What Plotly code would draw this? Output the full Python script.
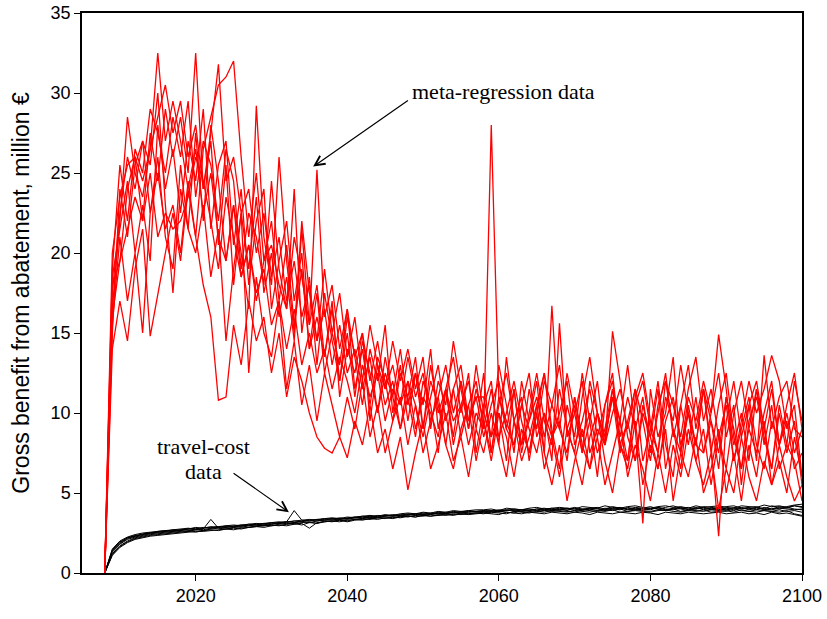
import plotly.graph_objects as go

years = list(range(2008, 2101))

# meta-regression data (red), million EUR
meta_1 = [0, 16.5, 22.0, 28.5, 25.0, 23.5, 26.5, 32.5, 27.0, 29.5,
          27.0, 24.0, 26.5, 22.5, 25.0, 21.0, 19.5, 23.0, 18.5, 20.5,
          17.5, 19.0, 15.5, 17.0, 14.0, 16.5, 13.0, 15.0, 12.5, 14.0,
          11.5, 13.5, 12.0, 10.0, 13.0, 11.0, 12.5, 9.5, 11.5, 10.5,
          12.0, 9.0, 11.0, 10.0, 8.5, 11.5, 9.5, 10.5, 8.0, 10.0,
          9.0, 28.0, 11.0, 9.5, 8.0, 10.5, 9.0, 7.5, 10.0, 8.5,
          9.5, 7.0, 11.0, 8.5, 10.0, 7.5, 9.0, 11.5, 8.0, 9.5,
          7.0, 10.5, 8.5, 6.5, 9.5, 11.0, 8.0, 10.0, 7.0, 9.0,
          5.5, 8.5, 10.5, 7.0, 9.0, 11.0, 8.0, 6.5, 9.5, 8.0,
          10.0, 7.5, 9.0]
meta_2 = [0, 18.0, 19.5, 24.0, 26.0, 22.0, 27.5, 24.5, 29.0, 26.0,
          28.5, 25.0, 32.5, 24.0, 27.0, 20.5, 25.5, 18.0, 22.5, 19.0,
          23.5, 17.5, 20.0, 16.0, 18.5, 14.5, 21.5, 15.5, 18.0, 13.5,
          16.5, 12.0, 15.0, 11.0, 14.5, 12.5, 10.0, 13.5, 11.0, 14.0,
          10.5, 12.5, 9.0, 13.0, 10.0, 11.5, 8.5, 12.0, 9.5, 11.0,
          11.0, 8.5, 10.0, 7.0, 11.5, 8.0, 9.5, 12.0, 7.5, 16.7,
          9.0, 7.5, 11.0, 8.0, 6.5, 10.0, 8.5, 11.0, 7.5, 9.5,
          11.5, 7.0, 9.0, 12.0, 8.0, 6.0, 10.5, 8.0, 11.0, 7.5,
          9.5, 6.5, 11.0, 8.0, 10.0, 7.0, 11.5, 9.0, 6.5, 10.0,
          7.5, 9.5, 5.5]
meta_3 = [0, 15.0, 24.0, 21.0, 25.5, 27.0, 22.5, 25.0, 21.5, 23.0,
          20.0, 24.5, 21.0, 26.5, 28.5, 30.5, 31.0, 32.0, 26.0, 21.0,
          25.0, 19.5, 22.0, 17.0, 20.5, 15.5, 19.0, 14.0, 17.5, 12.5,
          15.0, 13.0, 16.5, 11.5, 14.0, 10.5, 13.5, 12.0, 9.5, 12.5,
          11.0, 13.5, 9.0, 12.0, 10.5, 8.0, 11.5, 13.0, 9.5, 11.0,
          8.5, 10.5, 12.0, 9.0, 11.5, 7.5, 10.0, 12.5, 9.5, 8.0,
          11.5, 9.0, 10.5, 7.5, 12.0, 10.0, 8.5, 11.0, 9.5, 13.0,
          9.0, 11.0, 7.5, 10.0, 12.5, 8.5, 10.5, 13.0, 9.0, 11.5,
          8.0, 2.3, 9.5, 12.0, 8.5, 10.5, 7.0, 13.6, 9.0, 11.0,
          12.0, 9.0, 8.5]
meta_4 = [0, 20.0, 23.5, 25.5, 26.0, 24.5, 26.5, 28.5, 30.5, 27.5,
          29.5, 26.0, 28.0, 24.0, 27.5, 31.8, 24.5, 26.0, 22.5, 24.0,
          20.0, 22.5, 18.5, 21.0, 17.0, 19.5, 16.0, 18.0, 14.5, 16.5,
          13.0, 15.5, 12.5, 14.0, 11.5, 13.5, 10.0, 12.5, 11.0, 9.0,
          12.0, 10.5, 8.5, 11.0, 13.0, 9.5, 11.5, 8.5, 10.5, 12.0,
          9.0, 11.5, 8.5, 10.0, 12.0, 9.5, 7.5, 10.5, 12.5, 8.5,
          10.0, 12.0, 8.0, 9.5, 11.5, 8.5, 10.5, 12.5, 8.0, 7.0,
          10.5, 12.0, 9.0, 7.5, 11.0, 9.5, 13.0, 10.0, 8.0, 11.5,
          9.5, 7.5, 11.0, 9.0, 6.5, 10.5, 12.0, 9.0, 11.5, 8.0,
          9.5, 6.5, 7.5]
meta_5 = [0, 16.0, 19.5, 21.5, 23.5, 22.0, 25.0, 21.0, 22.5, 21.5,
          22.0, 23.5, 26.0, 24.5, 22.0, 19.0, 23.5, 21.0, 18.5, 20.5,
          17.0, 19.5, 20.5, 18.0, 16.5, 21.0, 18.5, 15.5, 25.2, 16.0,
          18.0, 14.0, 16.5, 13.5, 15.0, 12.0, 14.5, 11.5, 13.0, 10.5,
          13.5, 11.0, 12.5, 9.5, 11.0, 13.0, 10.0, 12.0, 9.0, 11.5,
          9.5, 7.5, 11.0, 9.0, 8.0, 10.5, 12.5, 8.5, 10.0, 7.0,
          15.6, 8.5, 10.0, 12.0, 7.5, 9.0, 8.0, 15.1, 12.0, 8.5,
          7.0, 10.0, 8.5, 11.5, 6.5, 9.0, 7.5, 11.0, 9.5, 12.0,
          10.0, 14.9, 11.5, 7.0, 9.5, 12.0, 10.0, 11.5, 13.6, 12.0,
          9.0, 10.5, 6.0]
meta_6 = [0, 14.0, 17.0, 14.5, 19.0, 21.5, 14.8, 17.5, 20.0, 22.5,
          19.5, 24.0, 21.0, 18.0, 16.0, 10.8, 11.0, 15.5, 13.0, 17.0,
          14.5, 16.0, 12.5, 15.0, 11.0, 13.5, 12.0, 10.0, 8.5, 7.8,
          7.5, 8.5, 7.2, 9.5, 8.0, 10.5, 7.5, 9.0, 6.5, 8.5,
          5.2, 7.5, 9.5, 6.5, 8.0, 10.0, 7.0, 8.5, 6.0, 9.0,
          7.5, 10.0, 8.0, 6.0, 9.5, 7.0, 8.5, 10.5, 7.5, 5.5,
          8.0, 4.5, 7.0, 9.0, 6.5, 8.5, 5.5, 7.5, 9.5, 6.0,
          8.0, 6.5, 4.5, 7.5, 5.0, 8.0, 6.0, 9.0, 7.0, 5.5,
          7.5, 4.0, 6.5, 5.0, 8.5, 6.0, 4.5, 7.0, 5.5, 8.0,
          6.0, 4.5, 5.5]
meta_7 = [0, 19.0, 25.5, 22.0, 26.5, 25.0, 29.0, 27.5, 25.0, 28.5,
          26.0, 29.5, 23.5, 27.0, 25.5, 22.0, 26.5, 24.5, 19.0, 22.5,
          21.0, 18.0, 24.5, 19.0, 16.5, 24.0, 15.0, 18.5, 13.0, 17.5,
          14.5, 12.0, 16.0, 13.5, 10.5, 14.0, 12.0, 15.5, 10.0, 13.0,
          9.5, 12.5, 10.5, 14.0, 9.0, 11.5, 13.5, 10.0, 12.5, 7.5,
          10.5, 12.0, 8.0, 13.5, 9.5, 11.0, 7.0, 10.0, 12.5, 9.0,
          6.5, 10.5, 8.5, 12.5, 9.5, 6.0, 10.5, 12.0, 8.5, 11.0,
          9.0, 3.1, 11.5, 8.5, 10.0, 13.5, 7.5, 10.0, 8.0, 11.5,
          7.5, 10.5, 12.5, 8.5, 6.5, 9.0, 7.5, 10.0, 12.0, 8.0,
          10.5, 12.5, 9.0]
meta_8 = [0, 17.5, 22.5, 26.0, 24.0, 27.0, 25.5, 30.0, 23.0, 17.5,
          24.0, 21.5, 27.5, 22.0, 28.0, 24.5, 19.5, 23.0, 20.0, 16.5,
          29.2, 21.0, 18.0, 26.0, 19.5, 15.0, 22.0, 17.5, 14.5, 19.0,
          15.0, 17.5, 13.5, 16.0, 12.0, 15.5, 13.0, 11.5, 14.5, 12.0,
          14.0, 11.5, 13.5, 9.0, 12.0, 10.5, 14.5, 11.5, 9.0, 13.0,
          10.0, 8.5, 13.0, 10.5, 7.5, 12.0, 9.5, 11.0, 8.5, 10.5,
          13.0, 9.0, 7.5, 11.0, 13.5, 10.0, 8.0, 11.5, 9.5, 7.0,
          11.0, 12.5, 9.5, 7.5, 12.0, 10.5, 8.5, 11.5, 13.5, 9.5,
          11.5, 8.5, 6.5, 10.0, 12.0, 9.0, 11.5, 8.0, 10.5, 6.5,
          8.0, 7.0, 4.5]
meta_9 = [0, 15.5, 21.0, 17.0, 20.0, 15.0, 22.5, 26.0, 21.0, 19.0,
          25.5, 21.5, 20.0, 23.0, 18.5, 21.5, 14.5, 19.0, 22.5, 12.5,
          18.5, 15.0, 13.5, 17.0, 11.5, 14.5, 10.5, 13.0, 9.5, 12.5,
          10.5, 8.5, 11.0, 9.0, 12.0, 8.5, 10.5, 7.5, 9.5, 11.0,
          8.0, 10.5, 7.5, 9.5, 11.0, 8.0, 6.5, 9.0, 10.5, 7.0,
          9.5, 7.0, 10.0, 8.5, 6.0, 9.0, 7.5, 10.0, 6.5, 8.5,
          6.0, 9.0, 7.5, 5.5, 8.5, 10.0, 7.0, 5.0, 8.0, 6.5,
          9.5, 5.5, 8.0, 6.5, 9.0, 4.5, 7.5, 6.0, 8.5, 5.0,
          6.5, 9.0, 5.0, 7.5, 4.5, 8.0, 6.0, 9.5, 5.5, 7.0,
          5.0, 8.5, 6.0]
meta_10 = [0, 18.5, 21.5, 24.5, 20.0, 23.0, 19.5, 28.0, 24.0, 26.5,
           22.5, 27.0, 24.5, 29.0, 21.5, 25.5, 27.0, 20.5, 24.0, 18.0,
           22.0, 24.0, 16.5, 19.5, 22.0, 17.0, 20.0, 14.0, 16.0, 13.5,
           17.0, 11.0, 14.0, 12.5, 15.0, 9.5, 13.0, 10.5, 12.0, 9.0,
           11.0, 8.5, 12.0, 10.5, 7.5, 11.5, 8.0, 10.5, 12.0, 9.0,
           12.5, 7.5, 10.5, 12.5, 9.5, 8.0, 11.5, 9.0, 12.0, 10.5,
           9.0, 12.5, 10.0, 7.5, 9.5, 12.0, 8.0, 10.0, 11.5, 9.0,
           11.5, 9.5, 7.0, 10.5, 12.0, 9.0, 6.5, 10.5, 8.0, 7.5,
           10.0, 12.5, 8.5, 10.5, 5.5, 9.5, 11.0, 8.5, 6.5, 10.5,
           8.0, 12.0, 9.5]

# travel-cost data (black), million EUR
travel_1 = [0, 1.4, 1.9, 2.2, 2.35, 2.4, 2.5, 2.55, 2.6, 2.65,
            2.7, 2.75, 2.7, 2.8, 2.85, 2.9, 2.85, 2.95, 3.0, 2.95,
            3.05, 3.1, 3.05, 3.15, 3.2, 3.9, 3.3, 3.25, 3.35, 3.3,
            3.4, 3.35, 3.45, 3.5, 3.45, 3.55, 3.5, 3.6, 3.55, 3.65,
            3.6, 3.7, 3.65, 3.7, 3.75, 3.7, 3.8, 3.75, 3.85, 3.8,
            3.85, 3.9, 3.8, 3.9, 3.95, 3.85, 3.9, 4.0, 3.9, 3.95,
            4.0, 3.9, 4.05, 3.95, 4.0, 3.9, 4.05, 4.0, 3.95, 4.1,
            4.0, 3.95, 4.05, 4.0, 3.9, 4.05, 4.1, 3.95, 4.0, 4.05,
            3.95, 4.1, 4.0, 3.9, 4.05, 4.0, 4.1, 3.95, 4.05, 4.0,
            4.1, 4.0, 3.95]
travel_2 = [0, 1.1, 1.6, 1.9, 2.1, 2.2, 2.3, 2.35, 2.4, 2.45,
            2.5, 2.55, 2.6, 2.6, 2.65, 2.7, 2.75, 2.7, 2.8, 2.85,
            2.9, 2.85, 2.95, 3.0, 2.95, 3.05, 3.1, 2.8, 3.15, 3.2,
            3.25, 3.2, 3.3, 3.35, 3.3, 3.4, 3.45, 3.4, 3.5, 3.45,
            3.55, 3.5, 3.6, 3.55, 3.65, 3.6, 3.7, 3.65, 3.7, 3.75,
            3.7, 3.8, 3.75, 3.7, 3.85, 3.8, 3.75, 3.85, 3.8, 3.9,
            3.85, 3.8, 3.9, 3.85, 3.8, 3.9, 3.85, 3.95, 3.8, 3.85,
            3.9, 3.85, 3.8, 3.9, 3.95, 3.85, 3.8, 3.9, 3.85, 3.95,
            3.8, 3.85, 3.9, 3.8, 3.95, 3.85, 3.8, 3.9, 3.85, 3.8,
            3.9, 3.7, 3.6]
travel_3 = [0, 1.3, 1.8, 2.1, 2.25, 2.35, 2.45, 2.5, 2.55, 2.6,
            2.65, 2.6, 2.7, 2.75, 3.35, 2.8, 2.85, 2.9, 2.85, 2.95,
            3.0, 2.95, 3.05, 3.1, 3.05, 3.15, 3.2, 3.15, 3.25, 3.3,
            3.3, 3.4, 3.35, 3.45, 3.4, 3.5, 3.45, 3.55, 3.6, 3.55,
            3.65, 3.6, 3.7, 3.65, 3.75, 3.7, 3.8, 3.75, 3.8, 3.85,
            3.8, 3.9, 3.85, 3.95, 3.9, 3.85, 3.95, 3.9, 4.0, 3.9,
            3.95, 4.0, 3.9, 4.0, 3.95, 4.05, 3.9, 4.0, 4.05, 3.95,
            4.05, 4.0, 3.95, 4.1, 4.0, 3.95, 4.05, 4.0, 4.1, 3.95,
            4.05, 4.0, 3.95, 4.1, 4.0, 4.05, 3.95, 4.1, 4.0, 4.15,
            4.05, 4.2, 4.1]
travel_4 = [0, 1.5, 2.0, 2.25, 2.4, 2.5, 2.55, 2.6, 2.65, 2.7,
            2.75, 2.8, 2.75, 2.85, 2.8, 2.9, 2.95, 2.9, 3.0, 3.05,
            3.0, 3.1, 3.15, 3.1, 3.2, 3.25, 3.2, 3.3, 3.35, 3.4,
            3.35, 3.45, 3.4, 3.5, 3.55, 3.5, 3.6, 3.55, 3.65, 3.6,
            3.7, 3.65, 3.75, 3.7, 3.8, 3.75, 3.85, 3.8, 3.9, 3.85,
            3.9, 3.85, 3.95, 3.9, 4.0, 3.95, 3.9, 4.0, 4.05, 3.95,
            4.05, 4.0, 4.1, 4.0, 4.05, 4.1, 4.0, 4.15, 4.05, 4.0,
            4.1, 4.05, 4.15, 4.0, 4.1, 4.2, 4.05, 4.1, 4.0, 4.15,
            4.1, 4.05, 4.15, 4.2, 4.05, 4.1, 4.15, 4.0, 4.2, 4.1,
            4.15, 4.25, 4.3]
travel_5 = [0, 1.2, 1.7, 2.0, 2.2, 2.3, 2.4, 2.45, 2.5, 2.55,
            2.6, 2.65, 2.7, 2.65, 2.75, 2.8, 2.75, 2.85, 2.9, 2.85,
            2.95, 3.0, 2.95, 3.05, 3.1, 3.05, 3.15, 3.2, 3.1, 3.25,
            3.2, 3.3, 3.25, 3.35, 3.4, 3.35, 3.45, 3.5, 3.45, 3.55,
            3.5, 3.6, 3.55, 3.65, 3.6, 3.7, 3.65, 3.75, 3.7, 3.75,
            3.8, 3.75, 3.85, 3.8, 3.75, 3.9, 3.85, 3.8, 3.9, 3.85,
            3.9, 3.85, 3.8, 3.95, 3.9, 3.85, 3.95, 3.9, 4.0, 3.85,
            3.95, 3.9, 3.85, 3.95, 3.9, 4.0, 3.85, 3.95, 3.9, 3.85,
            3.95, 3.9, 3.85, 4.0, 3.9, 3.85, 3.95, 3.9, 3.85, 3.95,
            3.85, 3.9, 3.8]
travel_6 = [0, 1.35, 1.85, 2.15, 2.3, 2.4, 2.5, 2.55, 2.6, 2.7,
            2.65, 2.75, 2.8, 2.7, 2.8, 2.85, 2.9, 2.85, 2.95, 3.0,
            3.05, 3.0, 3.1, 3.15, 3.2, 3.15, 3.25, 3.3, 3.25, 3.35,
            3.4, 3.35, 3.4, 3.45, 3.5, 3.45, 3.55, 3.6, 3.55, 3.6,
            3.65, 3.7, 3.65, 3.75, 3.7, 3.8, 3.75, 3.85, 3.8, 3.85,
            3.9, 3.85, 3.9, 3.95, 3.85, 3.95, 4.0, 3.9, 3.95, 4.05,
            3.95, 4.05, 4.0, 3.9, 4.05, 4.0, 3.95, 4.05, 4.1, 4.0,
            3.95, 4.05, 4.0, 4.1, 3.95, 4.05, 4.0, 3.9, 4.05, 4.1,
            4.0, 3.95, 4.05, 4.0, 4.1, 3.95, 4.05, 4.0, 3.95, 4.05,
            4.0, 3.95, 4.0]
travel_7 = [0, 1.15, 1.65, 1.95, 2.15, 2.25, 2.35, 2.4, 2.45, 2.5,
            2.55, 2.6, 2.55, 2.65, 2.7, 2.65, 2.75, 2.8, 2.75, 2.85,
            2.9, 2.95, 3.0, 2.95, 3.05, 3.1, 3.0, 3.15, 3.1, 3.2,
            3.25, 3.3, 3.2, 3.3, 3.35, 3.4, 3.35, 3.45, 3.4, 3.5,
            3.55, 3.5, 3.6, 3.55, 3.6, 3.65, 3.6, 3.7, 3.65, 3.7,
            3.75, 3.7, 3.65, 3.8, 3.75, 3.7, 3.8, 3.75, 3.7, 3.8,
            3.75, 3.7, 3.8, 3.75, 3.65, 3.8, 3.75, 3.7, 3.8, 3.75,
            3.7, 3.8, 3.75, 3.65, 3.8, 3.75, 3.7, 3.8, 3.75, 3.7,
            3.75, 3.8, 3.7, 3.75, 3.8, 3.7, 3.75, 3.65, 3.8, 3.7,
            3.75, 3.65, 3.55]
travel_8 = [0, 1.45, 1.95, 2.2, 2.3, 2.45, 2.5, 2.6, 2.65, 2.6,
            2.7, 2.75, 2.85, 2.8, 2.9, 2.85, 2.95, 3.0, 2.95, 3.05,
            3.1, 3.05, 3.15, 3.2, 3.15, 3.25, 3.3, 3.35, 3.3, 3.4,
            3.45, 3.4, 3.5, 3.45, 3.55, 3.6, 3.55, 3.65, 3.6, 3.7,
            3.75, 3.7, 3.8, 3.75, 3.85, 3.8, 3.9, 3.85, 3.9, 3.95,
            3.95, 4.0, 3.9, 4.05, 4.0, 3.95, 4.05, 4.1, 4.0, 4.05,
            4.1, 4.05, 4.0, 4.15, 4.1, 4.05, 4.2, 4.1, 4.05, 4.15,
            4.2, 4.1, 4.05, 4.15, 4.2, 4.1, 4.15, 4.05, 4.2, 4.1,
            4.15, 4.2, 4.1, 4.05, 4.2, 4.15, 4.1, 4.25, 4.15, 4.2,
            4.1, 4.2, 4.15]

meta_series = [meta_1, meta_2, meta_3, meta_4, meta_5,
               meta_6, meta_7, meta_8, meta_9, meta_10]
travel_series = [travel_1, travel_2, travel_3, travel_4,
                 travel_5, travel_6, travel_7, travel_8]

for i, s in enumerate(meta_series + travel_series):
    assert len(s) == len(years), f"series {i} has {len(s)} values"

fig = go.Figure()
for s in travel_series:
    fig.add_trace(go.Scatter(x=years, y=s, mode="lines",
                             line=dict(color="black", width=1),
                             showlegend=False, hoverinfo="skip"))
for s in meta_series:
    fig.add_trace(go.Scatter(x=years, y=s, mode="lines",
                             line=dict(color="#ff0000", width=1.3),
                             showlegend=False, hoverinfo="skip"))

serif = "Liberation Serif, Times New Roman, serif"
fig.add_annotation(x=2035.5, y=25.4, ax=2048.2, ay=29.6,
                   xref="x", yref="y", axref="x", ayref="y",
                   text="", showarrow=True, arrowhead=5,
                   arrowsize=1.6, arrowwidth=1.2, arrowcolor="black")
fig.add_annotation(x=2060.6, y=30.1, xref="x", yref="y",
                   text="meta-regression data", showarrow=False,
                   font=dict(family=serif, size=22, color="black"))
fig.add_annotation(x=2032.3, y=3.8, ax=2024.8, ay=6.3,
                   xref="x", yref="y", axref="x", ayref="y",
                   text="", showarrow=True, arrowhead=5,
                   arrowsize=1.6, arrowwidth=1.2, arrowcolor="black")
fig.add_annotation(x=2021.0, y=7.9, xref="x", yref="y",
                   text="travel-cost", showarrow=False,
                   font=dict(family=serif, size=22, color="black"))
fig.add_annotation(x=2021.0, y=6.35, xref="x", yref="y",
                   text="data", showarrow=False,
                   font=dict(family=serif, size=22, color="black"))

sans = "Arial, Liberation Sans, sans-serif"
fig.update_layout(
    width=827, height=619,
    margin=dict(l=82, r=25, t=13, b=46, autoexpand=False),
    paper_bgcolor="white", plot_bgcolor="white",
    font=dict(family=sans, size=18, color="black"),
    xaxis=dict(range=[2005, 2100], tick0=2000, dtick=20, automargin=False,
               showgrid=False, zeroline=False,
               showline=True, linecolor="black", linewidth=1.5, mirror=True,
               ticks="outside", ticklen=6, tickwidth=1, tickcolor="black",
               tickfont=dict(family=sans, size=18)),
    yaxis=dict(range=[0, 35], dtick=5, automargin=False,
               showgrid=False, zeroline=False,
               showline=True, linecolor="black", linewidth=1.5, mirror=True,
               ticks="outside", ticklen=6, tickwidth=1, tickcolor="black",
               tickfont=dict(family=sans, size=18),
               title=dict(text="Gross benefit from abatement, million €",
                          font=dict(family=sans, size=23), standoff=15)),
)

fig.write_html("out.html")
